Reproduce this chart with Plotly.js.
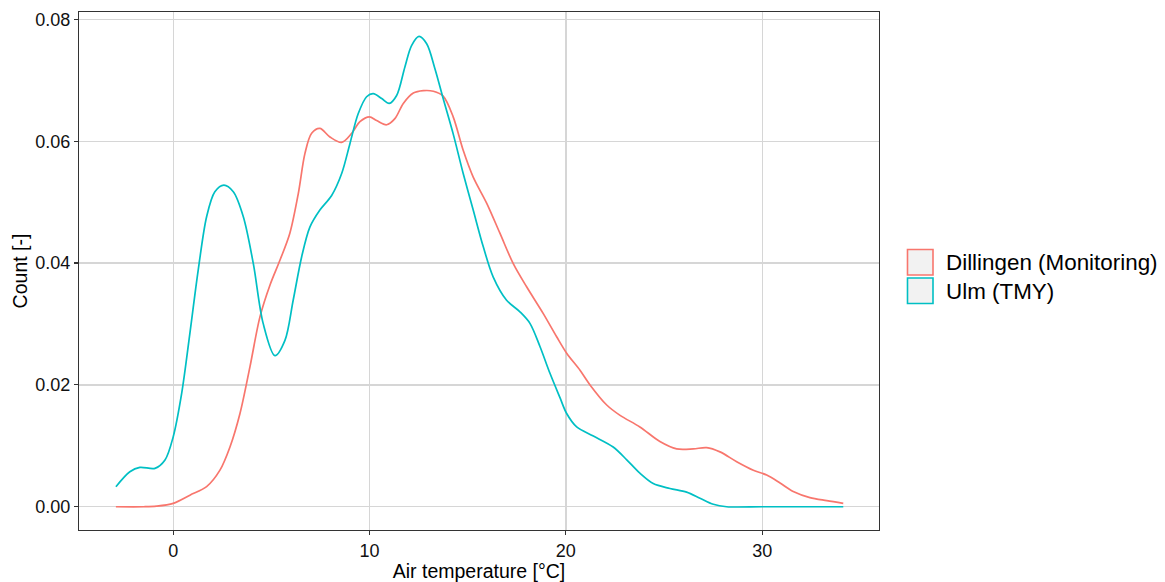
<!DOCTYPE html>
<html>
<head>
<meta charset="utf-8">
<script src="https://cdn.plot.ly/plotly-3.0.1.min.js"></script>
<style>
  html, body { margin: 0; padding: 0; background: #ffffff; }
  #chart { width: 1165px; height: 582px; }
</style>
</head>
<body>
<div id="chart"></div>
<script>
// Kernel density of hourly air temperature, two sites
const seriesNames = ['Dillingen (Monitoring)', 'Ulm (TMY)'];
const seriesColors = ['#F8766D', '#00BFC4'];

const dillingenTemp = [-2.92, -1.5, -0.85, 0, 0.85, 1.70, 2.38, 2.89, 3.40, 3.91, 4.42, 4.93, 5.44, 5.94, 6.37, 6.71, 7.05, 7.47, 7.98, 8.58, 9.09, 9.51, 9.99, 10.36, 10.87, 11.29, 11.72, 12.23, 12.74, 13.25, 13.75, 14.26, 14.77, 15.28, 15.97, 16.64, 17.32, 18.00, 18.85, 19.53, 20.04, 20.72, 21.23, 22.08, 22.76, 23.77, 24.79, 25.64, 26.49, 27.17, 27.85, 28.70, 29.55, 30.23, 30.91, 31.58, 32.43, 33.29, 34.13];
const dillingenDensity = [0, 0, 0.0001, 0.00056, 0.0019, 0.0033, 0.0060, 0.0098, 0.0153, 0.0230, 0.0312, 0.0364, 0.0405, 0.0449, 0.0514, 0.0580, 0.0613, 0.0621, 0.0607, 0.0598, 0.0613, 0.0632, 0.0640, 0.0634, 0.0627, 0.0637, 0.0662, 0.0679, 0.0683, 0.0682, 0.0674, 0.0640, 0.0585, 0.0541, 0.0498, 0.0449, 0.0399, 0.0361, 0.0317, 0.0279, 0.0252, 0.0224, 0.0200, 0.0167, 0.0150, 0.0131, 0.0107, 0.0095, 0.0095, 0.0097, 0.0090, 0.0074, 0.0060, 0.0052, 0.0039, 0.0025, 0.0015, 0.0010, 0.00056];

const ulmTemp = [-2.92, -2.21, -1.70, -0.93, -0.42, 0, 0.43, 0.85, 1.27, 1.70, 2.12, 2.58, 3.06, 3.57, 4.08, 4.58, 5.18, 5.69, 6.11, 6.54, 6.96, 7.47, 8.07, 8.58, 9.00, 9.42, 9.85, 10.19, 10.62, 11.0, 11.38, 11.80, 12.14, 12.52, 12.91, 13.33, 13.75, 14.26, 14.77, 15.28, 15.79, 16.30, 16.98, 17.66, 18.17, 18.68, 19.19, 19.70, 20.04, 20.55, 21.40, 22.41, 23.10, 23.77, 24.45, 25.30, 26.15, 26.83, 27.51, 28.19, 30, 32, 34.13];
const ulmDensity = [0.00328, 0.00574, 0.00646, 0.0063, 0.00766, 0.0115, 0.0186, 0.0285, 0.0388, 0.0476, 0.0517, 0.0528, 0.0517, 0.0476, 0.0399, 0.0301, 0.0248, 0.0273, 0.0339, 0.0410, 0.0459, 0.0487, 0.0511, 0.0547, 0.0596, 0.0645, 0.0673, 0.0678, 0.0670, 0.0662, 0.0675, 0.0722, 0.0757, 0.0772, 0.0760, 0.0719, 0.0670, 0.0612, 0.0547, 0.0487, 0.0427, 0.0377, 0.0339, 0.0320, 0.0301, 0.0263, 0.0219, 0.0179, 0.0153, 0.0131, 0.0116, 0.0098, 0.0077, 0.0055, 0.0038, 0.0030, 0.0024, 0.0014, 0.0004, 0, 0, 0, 0];

const xTicks = [0, 10, 20, 30];
const yTicks = [0, 0.02, 0.04, 0.06, 0.08];
const yTickText = ['0.00', '0.02', '0.04', '0.06', '0.08'];

const FONT = 'Arial, "Liberation Sans", sans-serif';

const traces = [
  { x: dillingenTemp, y: dillingenDensity, name: seriesNames[0] },
  { x: ulmTemp, y: ulmDensity, name: seriesNames[1] }
].map((t, i) => ({
  type: 'scatter', mode: 'lines', x: t.x, y: t.y, name: t.name,
  line: { color: seriesColors[i], width: 1.7, shape: 'spline', smoothing: 0.9 },
  showlegend: false, hoverinfo: 'x+y+name'
}));

// Legend drawn as outlined key boxes with text beside them
const W = 1165, H = 582;
const M = { l: 79, r: 286, t: 12, b: 52 };
const pw = W - M.l - M.r, ph = H - M.t - M.b;
const px = v => (v - M.l) / pw;
const py = v => (H - M.b - v) / ph;

const keyTop = [249.5, 278];
const keySize = 25.5;
const shapes = [];
const annotations = [];
seriesNames.forEach((name, i) => {
  shapes.push({
    type: 'rect', xref: 'paper', yref: 'paper',
    x0: px(907.5), x1: px(907.5 + keySize),
    y0: py(keyTop[i]), y1: py(keyTop[i] + keySize),
    fillcolor: '#f2f2f2', line: { color: seriesColors[i], width: 1.6 }
  });
  annotations.push({
    xref: 'paper', yref: 'paper', x: px(944), y: py(keyTop[i] + keySize / 2 + 0.5),
    xanchor: 'left', yanchor: 'middle', showarrow: false, text: name,
    font: { family: FONT, size: 22.4, color: '#000000' }
  });
});

const axisCommon = {
  showgrid: true, gridcolor: '#d6d6d6', gridwidth: 1.3,
  zeroline: false, showline: true, mirror: true,
  linecolor: '#333333', linewidth: 1.1,
  ticks: 'outside', ticklen: 4, tickwidth: 1.1, tickcolor: '#333333',
  tickfont: { family: FONT, size: 18, color: '#111111' }
};

const layout = {
  width: W, height: H,
  margin: M,
  paper_bgcolor: '#ffffff', plot_bgcolor: '#ffffff',
  xaxis: Object.assign({}, axisCommon, {
    range: [-4.8, 35.95], tickvals: xTicks, ticktext: xTicks.map(String),
    title: { text: 'Air temperature [°C]', standoff: 3,
      font: { family: FONT, size: 19.5, color: '#000000' } }
  }),
  yaxis: Object.assign({}, axisCommon, {
    range: [-0.00382, 0.08121], tickvals: yTicks, ticktext: yTickText,
    title: { text: 'Count [-]', standoff: 2,
      font: { family: FONT, size: 19.5, color: '#000000' } }
  }),
  shapes: shapes,
  annotations: annotations,
  showlegend: false
};

Plotly.newPlot('chart', traces, layout, { displayModeBar: false, staticPlot: true });
</script>
</body>
</html>
